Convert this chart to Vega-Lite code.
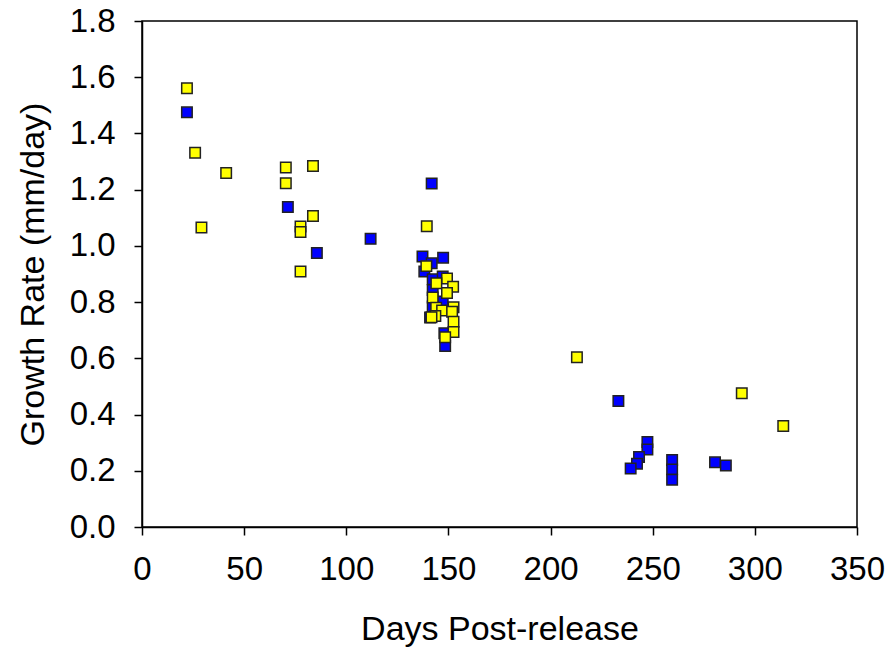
{
  "$schema": "https://vega.github.io/schema/vega-lite/v6.json",
  "width": 715,
  "height": 506,
  "autosize": {"type": "none"},
  "padding": {"left": 142, "top": 21, "right": 37, "bottom": 125},
  "background": "white",
  "config": {
    "view": {"stroke": "black", "strokeWidth": 1.5},
    "font": "Liberation Sans",
    "axis": {
      "grid": false,
      "domainColor": "black",
      "domainWidth": 1.5,
      "tickColor": "black",
      "tickWidth": 1.5,
      "tickSize": 8,
      "labelFont": "Liberation Sans",
      "labelFontSize": 33,
      "labelColor": "black",
      "titleFont": "Liberation Sans",
      "titleFontSize": 34,
      "titleFontWeight": "normal",
      "titleColor": "black"
    }
  },
  "data": {
    "values": [
      {"day": 22, "rate": 1.475, "group": "Blue"},
      {"day": 71.4, "rate": 1.138, "group": "Blue"},
      {"day": 85.6, "rate": 0.975, "group": "Blue"},
      {"day": 111.9, "rate": 1.025, "group": "Blue"},
      {"day": 137.3, "rate": 0.962, "group": "Blue"},
      {"day": 147.4, "rate": 0.958, "group": "Blue"},
      {"day": 141.8, "rate": 1.222, "group": "Blue"},
      {"day": 141.8, "rate": 0.938, "group": "Blue"},
      {"day": 138.2, "rate": 0.909, "group": "Blue"},
      {"day": 142.3, "rate": 0.881, "group": "Blue"},
      {"day": 147.2, "rate": 0.891, "group": "Blue"},
      {"day": 142.3, "rate": 0.843, "group": "Blue"},
      {"day": 147.2, "rate": 0.802, "group": "Blue"},
      {"day": 142.3, "rate": 0.784, "group": "Blue"},
      {"day": 141, "rate": 0.745, "group": "Blue"},
      {"day": 148, "rate": 0.689, "group": "Blue"},
      {"day": 148.4, "rate": 0.644, "group": "Blue"},
      {"day": 233.2, "rate": 0.448, "group": "Blue"},
      {"day": 247.4, "rate": 0.302, "group": "Blue"},
      {"day": 247.4, "rate": 0.276, "group": "Blue"},
      {"day": 243.3, "rate": 0.249, "group": "Blue"},
      {"day": 242.3, "rate": 0.225, "group": "Blue"},
      {"day": 239.2, "rate": 0.208, "group": "Blue"},
      {"day": 259.5, "rate": 0.238, "group": "Blue"},
      {"day": 259.5, "rate": 0.205, "group": "Blue"},
      {"day": 259.5, "rate": 0.168, "group": "Blue"},
      {"day": 280.5, "rate": 0.23, "group": "Blue"},
      {"day": 285.8, "rate": 0.219, "group": "Blue"},
      {"day": 22, "rate": 1.561, "group": "Yellow"},
      {"day": 26, "rate": 1.331, "group": "Yellow"},
      {"day": 41.2, "rate": 1.259, "group": "Yellow"},
      {"day": 70.4, "rate": 1.279, "group": "Yellow"},
      {"day": 83.7, "rate": 1.284, "group": "Yellow"},
      {"day": 70.4, "rate": 1.223, "group": "Yellow"},
      {"day": 83.7, "rate": 1.106, "group": "Yellow"},
      {"day": 29.1, "rate": 1.065, "group": "Yellow"},
      {"day": 77.6, "rate": 1.069, "group": "Yellow"},
      {"day": 77.6, "rate": 1.049, "group": "Yellow"},
      {"day": 77.6, "rate": 0.909, "group": "Yellow"},
      {"day": 139.4, "rate": 1.07, "group": "Yellow"},
      {"day": 139.2, "rate": 0.928, "group": "Yellow"},
      {"day": 149.3, "rate": 0.884, "group": "Yellow"},
      {"day": 144.1, "rate": 0.867, "group": "Yellow"},
      {"day": 152.3, "rate": 0.855, "group": "Yellow"},
      {"day": 149.3, "rate": 0.832, "group": "Yellow"},
      {"day": 142.3, "rate": 0.816, "group": "Yellow"},
      {"day": 152.5, "rate": 0.782, "group": "Yellow"},
      {"day": 144, "rate": 0.78, "group": "Yellow"},
      {"day": 146.9, "rate": 0.77, "group": "Yellow"},
      {"day": 151.8, "rate": 0.766, "group": "Yellow"},
      {"day": 143.6, "rate": 0.751, "group": "Yellow"},
      {"day": 141.7, "rate": 0.746, "group": "Yellow"},
      {"day": 152.5, "rate": 0.73, "group": "Yellow"},
      {"day": 152.5, "rate": 0.694, "group": "Yellow"},
      {"day": 148.4, "rate": 0.675, "group": "Yellow"},
      {"day": 212.9, "rate": 0.604, "group": "Yellow"},
      {"day": 293.6, "rate": 0.476, "group": "Yellow"},
      {"day": 313.9, "rate": 0.359, "group": "Yellow"}
    ]
  },
  "mark": {"type": "point", "shape": "square", "filled": true, "size": 110, "stroke": "#222222", "strokeWidth": 1.5, "opacity": 1},
  "encoding": {
    "x": {
      "field": "day", "type": "quantitative", "title": "Days Post-release",
      "scale": {"domain": [0, 350], "nice": false, "zero": true},
      "axis": {"values": [0, 50, 100, 150, 200, 250, 300, 350], "labelPadding": 18, "titlePadding": 26, "labelFlush": false}
    },
    "y": {
      "field": "rate", "type": "quantitative", "title": "Growth Rate (mm/day)",
      "scale": {"domain": [0, 1.8], "nice": false},
      "axis": {"values": [0, 0.2, 0.4, 0.6, 0.8, 1.0, 1.2, 1.4, 1.6, 1.8], "format": ".1f", "labelPadding": 19, "titlePadding": 19, "labelFlush": false}
    },
    "fill": {
      "field": "group", "type": "nominal",
      "scale": {"domain": ["Blue", "Yellow"], "range": ["#0000ff", "#ffff00"]},
      "legend": null
    }
  }
}
